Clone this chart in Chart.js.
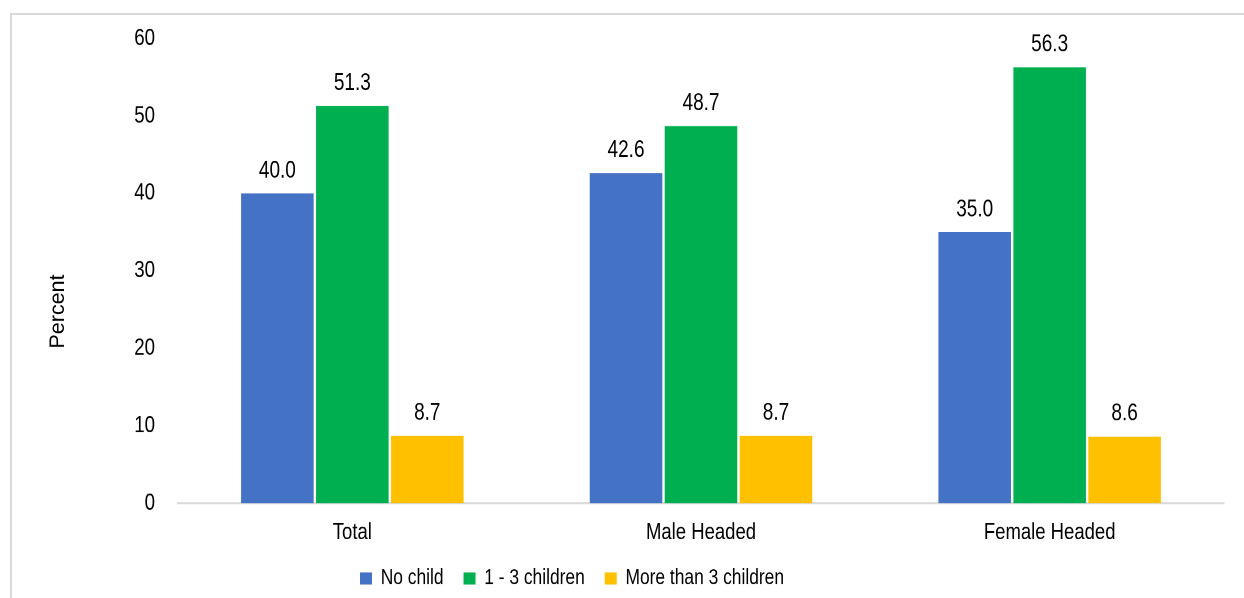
<!DOCTYPE html>
<html lang="en">
<head>
<meta charset="UTF-8" />
<title>Households by number of children</title>
<style>
  html, body { margin: 0; padding: 0; background: #fff; overflow: hidden; }
  #frame { position: absolute; left: 10px; top: 13px; width: 1400px; height: 800px;
           border-left: 2px solid #d9d9d9; border-top: 2px solid #d9d9d9; }
  /* the original's text is tall and narrow: draw at 478px high, stretch to 598 */
  #wrap { position: absolute; left: 0; top: 0; width: 1244px; height: 478px;
          transform: scaleY(1.251); transform-origin: 0 0; }
  #wrap canvas { display: block; }
</style>
</head>
<body>
<div id="frame"></div>
<div id="wrap"><canvas id="chart" width="1244" height="478"></canvas></div>

<script src="https://cdn.jsdelivr.net/npm/chart.js"></script>
<script>
  // values
  const categories = ["Total", "Male Headed", "Female Headed"];
  const seriesNames = ["No child", "1 - 3 children", "More than 3 children"];
  const noChild = [40.0, 42.6, 35.0];
  const oneToThree = [51.3, 48.7, 56.3];
  const moreThanThree = [8.7, 8.7, 8.6];
  const colors = ["#4472C4", "#00B050", "#FFC000"];
  const yTitle = "Percent";

  const STRETCH = 1.251;
  const FONT = "'Liberation Sans', Arial, sans-serif";
  Chart.defaults.font.family = FONT;
  Chart.defaults.color = "#000";

  // value labels above the bars
  const valueLabels = {
    id: "valueLabels",
    afterDatasetsDraw(chart) {
      const ctx = chart.ctx;
      ctx.save();
      ctx.font = "19px " + FONT;
      ctx.fillStyle = "#000";
      ctx.textAlign = "center";
      ctx.textBaseline = "alphabetic";
      chart.data.datasets.forEach((ds, i) => {
        chart.getDatasetMeta(i).data.forEach((bar, j) => {
          ctx.fillText(ds.data[j].toFixed(1), bar.x, bar.y - 12.8);
        });
      });
      ctx.restore();
    }
  };

  // y title: undo the page stretch so it keeps normal proportions
  const axisTitle = {
    id: "axisTitle",
    afterDraw(chart) {
      const ctx = chart.ctx;
      ctx.save();
      ctx.translate(64, 311.5 / STRETCH);
      ctx.scale(1, 1 / STRETCH);
      ctx.rotate(-Math.PI / 2);
      ctx.font = "21.5px " + FONT;
      ctx.fillStyle = "#000";
      ctx.textAlign = "center";
      ctx.textBaseline = "alphabetic";
      ctx.fillText(yTitle, 0, 0);
      ctx.restore();
    }
  };

  // legend sits left of centre in the original
  const legendShift = {
    id: "legendShift",
    afterLayout(chart) {
      const lg = chart.legend;
      if (!lg || !lg.lineWidths) return;
      const pad = lg.options.labels.padding;
      const start = (lg.left + pad + lg.right - lg.lineWidths[0]) / 2;
      const dx = 360 - start;
      lg.left += dx;
      lg.right += dx;
    }
  };

  new Chart(document.getElementById("chart"), {
    type: "bar",
    data: {
      labels: categories,
      datasets: [
        { label: seriesNames[0], data: noChild, backgroundColor: colors[0] },
        { label: seriesNames[1], data: oneToThree, backgroundColor: colors[1] },
        { label: seriesNames[2], data: moreThanThree, backgroundColor: colors[2] }
      ]
    },
    options: {
      responsive: false,
      animation: false,
      devicePixelRatio: 2,
      barPercentage: 0.968,
      categoryPercentage: 0.645,
      layout: { padding: { left: 0, right: 20, top: 30.8, bottom: 0 } },
      scales: {
        x: {
          grid: { display: false, drawTicks: false },
          border: { display: true, color: "#d9d9d9", width: 1.6 },
          ticks: { font: { size: 18.5 }, padding: 12.5, color: "#000" },
          afterFit(scale) { scale.height = 31.5; }
        },
        y: {
          min: 0, max: 60,
          grid: { display: false, drawTicks: false },
          border: { display: false },
          ticks: { stepSize: 10, font: { size: 18.7 }, padding: 23, color: "#000" },
          title: { display: false },
          afterFit(scale) {
            scale.width = 178;
            // tick padding would otherwise push the plot top down
            scale.paddingTop = 0;
            scale.paddingBottom = 0;
          }
        }
      },
      plugins: {
        legend: {
          position: "bottom",
          maxHeight: 44.3,
          labels: { boxWidth: 12, boxHeight: 9.6, font: { size: 17.4 }, padding: 20, color: "#000" }
        },
        tooltip: { enabled: false }
      }
    },
    plugins: [valueLabels, axisTitle, legendShift]
  });
</script>
</body>
</html>
